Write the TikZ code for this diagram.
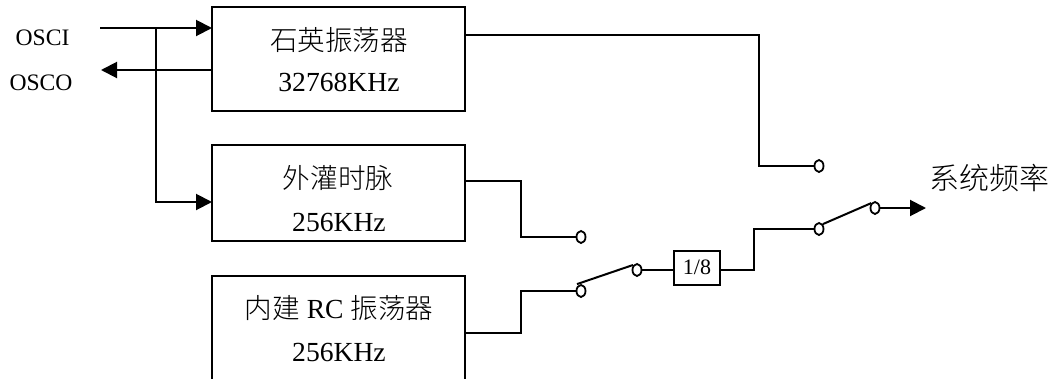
\documentclass[tikz,border=0pt]{standalone}
\usepackage{fontspec}
\setmainfont{Liberation Serif}
\newfontfamily\cjk{Noto Sans CJK SC Light}
\usetikzlibrary{arrows.meta,shapes.geometric}
\tikzset{
  x=1pt,y=-1pt,
  block/.style={draw=black,line width=1.4pt,minimum width=253pt,inner sep=0pt,fill=none},
  lbl/.style={inner sep=0pt,font=\fontsize{27.6pt}{30pt}\selectfont},
  cjklbl/.style={inner sep=0pt,font=\fontsize{27.6pt}{30pt}\selectfont\cjk},
  pin/.style={inner sep=0pt,font=\fontsize{23.6pt}{26pt}\selectfont},
  wire/.style={line width=2pt,draw=black,line join=miter},
  tipwire/.style={wire,-{Triangle[length=16pt,width=16pt]}},
  term/.style={draw=black,line width=1.8pt,fill=white,ellipse,minimum width=9pt,minimum height=12pt,inner sep=0pt},
}
\begin{document}
\begin{tikzpicture}
\useasboundingbox (0,0) rectangle (1053,378);
\clip (0,0) rectangle (1053,378);
% blocks
\node[block,minimum height=104pt] (b1) at (338.5,59) {};
\node[block,minimum height=96pt] (b2) at (338.5,193) {};
\node[block,minimum height=140pt] (b3) at (338.5,346) {};
\node[cjklbl] (t1a) at (339,40) {石英振荡器};
\node[lbl] (t1b) at (339,82) {32768KHz};
\node[cjklbl] (t2a) at (338,178) {外灌时脉};
\node[lbl] (t2b) at (339,222) {256KHz};
\node[lbl] (t3a) at (339,308) {{\cjk 内建} RC {\cjk 振荡器}};
\node[lbl] (t3b) at (339,352) {256KHz};
\node[pin] (osci) at (42.5,38) {OSCI};
\node[pin] (osco) at (41,83) {OSCO};
\node[cjklbl,font=\fontsize{30pt}{32pt}\selectfont\cjk] (out) at (989,178) {系统频率};
% divider
\node[draw=black,line width=1.4pt,minimum width=46pt,minimum height=34pt,inner sep=0pt,font=\fontsize{22pt}{24pt}\selectfont] (div) at (697,268) {\raisebox{1pt}{1/8}};
% terminals
\node[term] (s1) at (819,166) {};
\node[term] (s2) at (581,237) {};
\node[term] (s3) at (581,291) {};
\node[term] (s4) at (637,270) {};
\node[term] (s5) at (819,229) {};
\node[term] (s6) at (875,208) {};
% free ends
\coordinate (ini) at (100,28);
\coordinate (ino) at (212,28);
\coordinate (outo) at (101,70);
\coordinate (j) at (156,28);
\coordinate (b1o) at (212,70);
\coordinate (b2i) at (212,202);
\coordinate (b1r) at (465,35);
\coordinate (b2r) at (465,181);
\coordinate (b3r) at (465,332.5);
\coordinate (end) at (926,208);
% connectors
\draw[tipwire] (ini) -- (ino);
\draw[tipwire] (b1o) -- (outo);
\draw[tipwire] (j) |- (b2i);
\draw[wire] (b1r) -- (759,35) |- (s1.west);
\draw[wire] (b2r) -- (521,181) |- (s2.west);
\draw[wire] (b3r) -- (521,332.5) |- (s3.west);
\draw[wire] (s3.north) ++(-4,0) -- (633,265);
\draw[wire] (s4.east) -- (div.west |- s4.east);
\draw[wire] (div.east |- s4.east) -- (754,270) |- (s5.west);
\draw[wire] (s5.north east) -- (s6.north west);
\draw[tipwire] (s6.east) -- (end);
\end{tikzpicture}
\end{document}
